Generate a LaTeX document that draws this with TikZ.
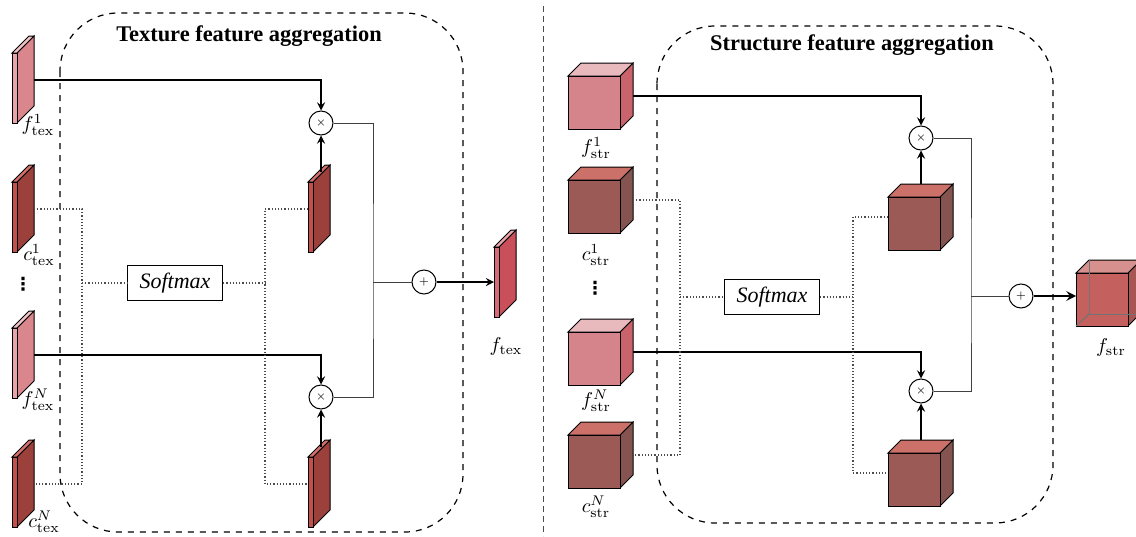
\documentclass[tikz,border=0pt]{standalone}
\usepackage[no-math]{fontspec}
\setmainfont{Liberation Serif}
\newfontfamily\dotsfont{DejaVu Sans}
\usepackage{amsmath}

\definecolor{fslabfront}{HTML}{E9A3AB}
\definecolor{fslabside}{HTML}{D9868D}
\definecolor{fslabtop}{HTML}{F2C4C8}
\definecolor{cslabfront}{HTML}{C4504C}
\definecolor{cslabside}{HTML}{9C403C}
\definecolor{cslabtop}{HTML}{D8706C}
\definecolor{oslabfront}{HTML}{D86C76}
\definecolor{oslabside}{HTML}{C9505A}
\definecolor{oslabtop}{HTML}{EBA5AA}
\definecolor{fcubefront}{HTML}{D5848B}
\definecolor{fcubeside}{HTML}{CB636C}
\definecolor{fcubetop}{HTML}{E8B9BD}
\definecolor{ccubefront}{HTML}{9B5A55}
\definecolor{ccubeside}{HTML}{855450}
\definecolor{ccubetop}{HTML}{CC706A}
\definecolor{ocubefront}{HTML}{C4605E}
\definecolor{ocubeside}{HTML}{A85654}
\definecolor{ocubetop}{HTML}{D6918E}

\newcommand{\featslab}[6]{%
  \filldraw[fill=#5] (#2+5,#3) -- ++(17,-17) -- ++(0,70) -- ++(-17,17) -- cycle;
  \filldraw[fill=#6] (#2,#3) -- ++(17,-17) -- ++(5,0) -- ++(-17,17) -- cycle;
  \filldraw[fill=#4] (#2,#3) rectangle ++(5,70);
  \coordinate (#1-side) at (#2+22,#3+27);
  \coordinate (#1-top) at (#2+13,#3-10);
  \coordinate (#1-w) at (#2,#3+27);
}
\newcommand{\featcube}[6]{%
  \filldraw[fill=#5] (#2+52,#3) -- ++(13,-13) -- ++(0,53) -- ++(-13,13) -- cycle;
  \filldraw[fill=#6] (#2,#3) -- ++(13,-13) -- ++(52,0) -- ++(-13,13) -- cycle;
  \filldraw[fill=#4] (#2,#3) rectangle ++(52,53);
  \coordinate (#1-side) at (#2+65,#3+20);
  \coordinate (#1-top) at (#2+33,#3-13);
  \coordinate (#1-w) at (#2,#3+20);
}

\begin{document}
\begin{tikzpicture}[x=0.5pt, y=-0.5pt, >=stealth, line width=0.5pt,
  flow/.style={line width=0.8pt},
  gate/.style={densely dotted, line width=0.6pt, black!70},
  sumline/.style={line width=0.5pt, black!75},
  opcirc/.style={circle, draw, line width=0.5pt, fill=white, minimum size=12pt, inner sep=0pt, font=\tiny},
  softbox/.style={draw, line width=0.6pt, fill=white, minimum width=47.5pt, minimum height=17.5pt, font=\fontsize{11}{13}\selectfont\itshape},
  groupbox/.style={dashed, line width=0.6pt, rounded corners=29pt},
  title/.style={font=\fontsize{11.2}{13}\selectfont\bfseries},
  lbl/.style={inner sep=0pt},
  vdotlbl/.style={inner sep=0pt, font=\dotsfont\bfseries\small}]
\useasboundingbox (0,0) rectangle (1136,536);
\clip (0,0) rectangle (1136,536);

% texture branch
\draw[groupbox] (60,13) rectangle (463,532);
\node[title] (ttex) at (249,36) {Texture feature aggregation};
\draw[densely dashed, line width=0.4pt, black!70] (543,6) -- (543,536);

\featslab{fl1}{12}{53}{fslabfront}{fslabside}{fslabtop}
\featslab{cl1}{12}{182}{cslabfront}{cslabside}{cslabtop}
\featslab{flN}{12}{328}{fslabfront}{fslabside}{fslabtop}
\featslab{clN}{12}{457}{cslabfront}{cslabside}{cslabtop}
\featslab{cm1}{308}{182}{cslabfront}{cslabside}{cslabtop}
\featslab{cm2}{308}{457}{cslabfront}{cslabside}{cslabtop}
\featslab{ftex}{494}{247}{oslabfront}{oslabside}{oslabtop}

\node[lbl] (lf1) at (38,125) {$f^{1}_{\mathrm{tex}}$};
\node[lbl] (lc1) at (39,255) {$c^{1}_{\mathrm{tex}}$};
\node[vdotlbl] (ldots) at (23,284) {⋮};
\node[lbl] (lfN) at (38,400) {$f^{N}_{\mathrm{tex}}$};
\node[lbl] (lcN) at (44,522) {$c^{N}_{\mathrm{tex}}$};
\node[lbl] (lftex) at (506,346) {$f_{\mathrm{tex}}$};

\node[softbox] (soft1) at (175,283) {Softmax};
\node[opcirc] (mul1) at (321,123) {$\times$};
\node[opcirc] (mul2) at (321,397) {$\times$};
\node[opcirc] (add1) at (424,282) {$+$};
\coordinate (lsplit) at (82,283);
\coordinate (lmerge) at (265,283);
\coordinate (lsum) at (373,282);

\draw[flow,->] (fl1-side) -| (mul1.north);
\draw[flow,->] (flN-side) -| (mul2.north);
\draw[flow,->] (cm1-top) -- (mul1.south);
\draw[flow,->] (cm2-top) -- (mul2.south);
\draw[gate] (cl1-side) -| (lsplit) |- (clN-side);
\draw[gate] (lsplit) -- (soft1.west);
\draw[gate] (soft1.east) -- (lmerge);
\draw[gate] (cm1-w) -| (lmerge) |- (cm2-w);
\draw[sumline] (mul1.east) -| (lsum) |- (mul2.east);
\draw[sumline] (lsum) -- (add1.west);
\draw[flow,->] (add1.east) -- (ftex-w |- add1.east);

% structure branch
\draw[groupbox] (657,26) rectangle (1053,523);
\node[title] (tstr) at (852,45) {Structure feature aggregation};

\featcube{fs1}{568}{76}{fcubefront}{fcubeside}{fcubetop}
\featcube{cs1}{568}{180}{ccubefront}{ccubeside}{ccubetop}
\featcube{fsN}{568}{332}{fcubefront}{fcubeside}{fcubetop}
\featcube{csN}{568}{435}{ccubefront}{ccubeside}{ccubetop}
\featcube{cm3}{888}{197}{ccubefront}{ccubeside}{ccubetop}
\featcube{cm4}{888}{453}{ccubefront}{ccubeside}{ccubetop}
\featcube{fstr}{1076}{273}{ocubefront}{ocubeside}{ocubetop}
\draw[black!55] (1089,260) -- (1089,314) -- (1141,314);
\draw[black!55] (1089,314) -- (1076,326);

\node[lbl] (rf1) at (596,148) {$f^{1}_{\mathrm{str}}$};
\node[lbl] (rc1) at (596,255) {$c^{1}_{\mathrm{str}}$};
\node[vdotlbl] (rdots) at (595,288) {⋮};
\node[lbl] (rfN) at (596,401) {$f^{N}_{\mathrm{str}}$};
\node[lbl] (rcN) at (596,507) {$c^{N}_{\mathrm{str}}$};
\node[lbl] (rfstr) at (1111,347) {$f_{\mathrm{str}}$};

\node[softbox] (soft2) at (772,297) {Softmax};
\node[opcirc] (mul3) at (921,138) {$\times$};
\node[opcirc] (mul4) at (921,391) {$\times$};
\node[opcirc] (add2) at (1021,296) {$+$};
\coordinate (rsplit) at (680,297);
\coordinate (rmerge) at (853,297);
\coordinate (rsum) at (971,296);

\draw[flow,->] (fs1-side) -| (mul3.north);
\draw[flow,->] (fsN-side) -| (mul4.north);
\draw[flow,->] (cm3-top) -- (mul3.south);
\draw[flow,->] (cm4-top) -- (mul4.south);
\draw[gate] (cs1-side) -| (rsplit) |- (csN-side);
\draw[gate] (rsplit) -- (soft2.west);
\draw[gate] (soft2.east) -- (rmerge);
\draw[gate] (cm3-w) -| (rmerge) |- (cm4-w);
\draw[sumline] (mul3.east) -| (rsum) |- (mul4.east);
\draw[sumline] (rsum) -- (add2.west);
\draw[flow,line width=1.1pt,->] (add2.east) -- (fstr-w |- add2.east);
\end{tikzpicture}
\end{document}
